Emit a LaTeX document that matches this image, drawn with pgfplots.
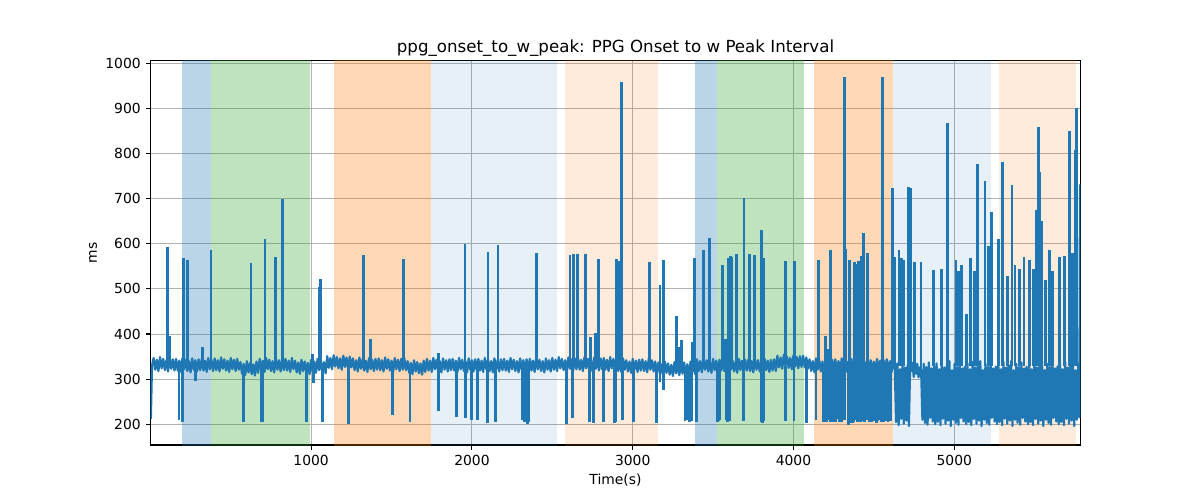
\documentclass[border=0pt]{standalone}
\usepackage{fontspec}
\setmainfont{DejaVu Sans}
\usepackage{pgfplots}
\pgfplotsset{compat=1.18}
\definecolor{tabblue}{RGB}{31,119,180}
\definecolor{tabgreen}{RGB}{44,160,44}
\definecolor{taborange}{RGB}{255,127,14}
\definecolor{gridgray}{RGB}{176,176,176}
\begin{document}
\begin{tikzpicture}[x=1pt,y=1pt]
\useasboundingbox[fill=white] (0,0) rectangle (600,250);
\begin{axis}[
 at={(75.35pt,27.5pt)}, anchor=south west,
 scale only axis, width=464.8pt, height=192.15pt,
 xmin=2, xmax=5784, ymin=154, ymax=1006,
 axis line style={line width=0.555pt},
 grid=major, major grid style={gridgray, line width=0.5pt},
 tick pos=left,
 tick align=outside, major tick length=2.43pt, tick style={black, line width=0.55pt},
 xtick={1000,2000,3000,4000,5000}, ytick={200,300,...,1000},
 ticklabel style={font=\fontsize{6.94}{8}\selectfont},
 /pgf/number format/assume math mode=true,
 /pgf/number format/1000 sep={},
 xticklabel style={inner sep=0pt, anchor=north, yshift=-2.36pt},
 yticklabel style={inner sep=0pt, anchor=east, xshift=-2.36pt},
 unbounded coords=jump,
]
% shaded phases
\addplot[fill=tabblue, fill opacity=0.3, draw=none] coordinates {(197,0)(377,0)(377,2000)(197,2000)};
\addplot[fill=tabgreen, fill opacity=0.3, draw=none] coordinates {(377,0)(995,0)(995,2000)(377,2000)};
\addplot[fill=taborange, fill opacity=0.3, draw=none] coordinates {(1142,0)(1743,0)(1743,2000)(1142,2000)};
\addplot[fill=tabblue, fill opacity=0.11, draw=none] coordinates {(1743,0)(2527,0)(2527,2000)(1743,2000)};
\addplot[fill=taborange, fill opacity=0.15, draw=none] coordinates {(2579,0)(3155,0)(3155,2000)(2579,2000)};
\addplot[fill=tabblue, fill opacity=0.3, draw=none] coordinates {(3389,0)(3526,0)(3526,2000)(3389,2000)};
\addplot[fill=tabgreen, fill opacity=0.3, draw=none] coordinates {(3526,0)(4067,0)(4067,2000)(3526,2000)};
\addplot[fill=taborange, fill opacity=0.3, draw=none] coordinates {(4127,0)(4621,0)(4621,2000)(4127,2000)};
\addplot[fill=tabblue, fill opacity=0.11, draw=none] coordinates {(4621,0)(5226,0)(5226,2000)(4621,2000)};
\addplot[fill=taborange, fill opacity=0.15, draw=none] coordinates {(5278,0)(5755,0)(5755,2000)(5278,2000)};
% baseline series
\addplot[tabblue, line width=1.1pt, line join=round] coordinates {
(3,212)(10,330)
(20,347)(30,321)(40,343)(50,318)(60,349)(70,324)(80,345)(90,320)(100,342)(110,317)(120,348)(130,323)(140,344)(150,319)
(160,345)(170,319)(180,341)(190,316)(200,347)(210,322)(220,343)(230,318)(240,340)(250,315)(260,346)(270,321)(280,342)(290,317)(300,344)(310,320)(320,345)(330,319)(340,341)(350,316)(360,347)(370,322)(380,343)(390,318)
(400,346)(410,320)(420,342)(430,317)(440,348)(450,323)(460,344)(470,319)(480,341)(490,316)(500,347)(510,322)(520,343)(530,318)(540,345)(550,321)
(560,338)(570,312)(580,334)(590,309)(600,340)(610,315)(620,336)(630,311)(640,333)(650,308)(660,339)(670,314)
(680,345)(690,319)(700,341)(710,316)(720,347)(730,322)(740,343)(750,318)(760,340)(770,315)(780,346)(790,321)(800,342)(810,317)(820,344)(830,320)(840,345)(850,319)(860,341)(870,316)(880,347)(890,322)
(900,341)(910,315)(920,337)(930,312)(940,343)(950,318)(960,339)(970,314)(980,336)(990,311)
(1000,343)(1010,317)(1020,339)(1030,314)(1040,345)(1050,320)(1060,341)(1070,316)(1080,338)(1090,313)
(1100,351)(1110,325)(1120,347)(1130,322)(1140,353)(1150,328)(1160,349)(1170,324)(1180,346)(1190,321)(1200,352)(1210,327)(1220,348)(1230,323)(1240,350)(1250,326)
(1260,346)(1270,320)(1280,342)(1290,317)(1300,348)(1310,323)(1320,344)(1330,319)(1340,341)(1350,316)(1360,347)(1370,322)(1380,343)(1390,318)(1400,345)(1410,321)
(1420,346)(1430,320)(1440,342)(1450,317)(1460,348)(1470,323)(1480,344)(1490,319)(1500,341)(1510,316)(1520,347)(1530,322)(1540,343)(1550,318)(1560,345)(1570,321)
(1580,346)(1590,320)
(1600,340)(1610,314)(1620,336)(1630,311)(1640,342)(1650,317)(1660,338)(1670,313)(1680,335)(1690,310)(1700,341)(1710,316)
(1720,345)(1730,319)(1740,341)(1750,316)(1760,347)(1770,322)(1780,343)(1790,318)(1800,340)(1810,315)(1820,346)(1830,321)(1840,342)(1850,317)(1860,344)(1870,320)
(1880,345)(1890,319)(1900,341)(1910,316)(1920,347)(1930,322)(1940,343)(1950,318)(1960,340)(1970,315)(1980,346)(1990,321)(2000,342)(2010,317)(2020,344)(2030,320)
(2040,345)(2050,319)(2060,341)(2070,316)(2080,347)(2090,322)(2100,343)(2110,318)(2120,340)(2130,315)(2140,346)(2150,321)(2160,342)(2170,317)(2180,344)(2190,320)
(2200,345)(2210,319)(2220,341)(2230,316)(2240,347)(2250,322)(2260,343)(2270,318)(2280,340)(2290,315)(2300,346)(2310,321)(2320,342)(2330,317)(2340,344)(2350,320)
(2360,345)(2370,319)(2380,341)(2390,316)(2400,347)(2410,322)(2420,343)(2430,318)(2440,340)(2450,315)(2460,346)(2470,321)(2480,342)(2490,317)
(2500,347)(2510,321)(2520,343)(2530,318)(2540,349)(2550,324)(2560,345)(2570,320)(2580,342)(2590,317)(2600,348)(2610,323)(2620,344)(2630,319)(2640,346)(2650,322)
(2660,347)(2670,321)(2680,343)(2690,318)(2700,349)(2710,324)(2720,345)(2730,320)(2740,342)(2750,317)(2760,348)(2770,323)(2780,344)(2790,319)(2800,346)(2810,322)
(2820,347)(2830,321)(2840,343)(2850,318)(2860,349)(2870,324)(2880,345)(2890,320)
(2900,344)(2910,318)(2920,340)(2930,315)(2940,346)(2950,321)(2960,342)(2970,317)(2980,339)(2990,314)(3000,345)(3010,320)(3020,341)(3030,316)(3040,343)(3050,319)
(3060,344)(3070,318)(3080,340)(3090,315)(3100,346)(3110,321)(3120,342)(3130,317)(3140,339)(3150,314)
(3160,337)(3170,311)(3180,333)(3190,308)(3200,339)(3210,314)(3220,335)(3230,310)(3240,332)(3250,307)(3260,338)(3270,313)(3280,334)(3290,309)(3300,336)(3310,312)
(3320,337)(3330,311)(3340,333)(3350,308)(3360,339)(3370,314)(3380,335)(3390,310)
(3400,344)(3410,318)(3420,340)(3430,315)(3440,346)(3450,321)(3460,342)(3470,317)(3480,339)(3490,314)(3500,345)(3510,320)(3520,341)(3530,316)(3540,343)(3550,319)
(3560,344)(3570,318)(3580,340)(3590,315)(3600,346)(3610,321)(3620,342)(3630,317)(3640,339)(3650,314)(3660,345)(3670,320)(3680,341)(3690,316)(3700,343)(3710,319)
(3720,344)(3730,318)(3740,340)(3750,315)(3760,346)(3770,321)(3780,342)(3790,317)(3800,339)(3810,314)(3820,345)(3830,320)(3840,341)(3850,316)(3860,343)(3870,319)
(3880,344)(3890,318)
(3900,352)(3910,326)(3920,348)(3930,323)(3940,354)(3950,329)(3960,350)(3970,325)(3980,347)(3990,322)(4000,353)(4010,328)(4020,349)(4030,324)(4040,351)(4050,327)
(4060,352)(4070,326)(4080,348)(4090,323)
(4100,344)(4110,318)(4120,340)(4130,315)(4140,346)(4150,321)(4160,342)(4170,317)(4180,339)(4190,314)(4200,345)(4210,320)(4220,341)(4230,316)(4240,343)(4250,319)
(4260,344)(4270,318)(4280,340)(4290,315)(4300,346)(4310,321)(4320,342)(4330,317)(4340,339)(4350,314)(4360,345)(4370,320)(4380,341)(4390,316)(4400,343)(4410,319)
(4420,344)(4430,318)(4440,340)(4450,315)(4460,346)(4470,321)(4480,342)(4490,317)(4500,339)(4510,314)(4520,345)(4530,320)(4540,341)(4550,316)(4560,343)(4570,319)
(4580,344)(4590,318)(4600,340)(4610,315)(4620,339)
(4630,328)(4638,205)(4646,335)(4654,198)(4662,322)(4670,212)(4678,338)(4686,201)(4694,326)(4702,208)
(4710,331)(4718,196)(4726,340)(4733,318)(4740,336)(4748,305)(4755,330)(4763,312)(4770,334)(4778,304)(4785,326)
(4794,320)(4802,210)(4810,334)(4818,203)(4826,327)(4834,199)(4842,337)(4850,214)(4858,324)(4866,206)
(4874,328)(4882,200)(4890,335)(4898,205)(4906,322)(4914,198)(4922,338)(4930,212)(4938,326)(4946,201)
(4954,331)(4962,208)(4970,340)(4978,196)(4986,320)(4994,210)(5002,334)(5010,203)(5018,327)(5026,199)
(5034,337)(5042,214)(5050,324)(5058,206)(5066,328)(5074,200)(5082,335)(5090,205)(5098,322)(5106,198)
(5114,338)(5122,212)(5130,326)(5138,201)(5146,331)(5154,208)(5162,340)(5170,196)(5178,320)(5186,210)
(5194,334)(5202,203)(5210,327)(5218,199)(5226,337)(5234,214)(5242,324)(5250,206)(5258,328)(5266,200)
(5274,335)(5282,205)(5290,322)(5298,198)(5306,338)(5314,212)(5322,326)(5330,201)(5338,331)(5346,208)
(5354,340)(5362,196)(5370,320)(5378,210)(5386,334)(5394,203)(5402,327)(5410,199)(5418,337)(5426,214)
(5434,324)(5442,206)(5450,328)(5458,200)(5466,335)(5474,205)(5482,322)(5490,198)(5498,338)(5506,212)
(5514,326)(5522,201)(5530,331)(5538,208)(5546,340)(5554,196)(5562,320)(5570,210)(5578,334)(5586,203)
(5594,327)(5602,199)(5610,337)(5618,214)(5626,324)(5634,206)(5642,328)(5650,200)(5658,335)(5666,205)
(5674,322)(5682,198)(5690,338)(5698,212)(5706,326)(5714,201)(5722,331)(5730,208)(5738,340)(5746,196)
(5754,320)(5762,210)(5770,334)(5778,215)(5782,730)(5784,728)
};
% upward spikes
\addplot[tabblue, line width=1.45pt] coordinates {
(109,332)(109,593)(109,nan)(117,332)(117,396)(117,nan)(205,332)(205,568)(205,nan)(230,332)(230,565)(230,nan)
(323,332)(323,371)(323,nan)(377,332)(377,586)(377,nan)(626,325)(626,558)(626,nan)(713,330)(713,610)(713,nan)
(777,330)(777,571)(777,nan)(820,330)(820,699)(820,nan)(1009,330)(1009,355)(1009,nan)(1052,330)(1052,505)(1052,nan)
(1057,330)(1057,523)(1057,nan)(1324,332)(1324,575)(1324,nan)(1368,332)(1368,389)(1368,nan)(1577,332)(1577,566)(1577,nan)
(1791,332)(1791,357)(1791,nan)(1957,332)(1957,599)(1957,nan)(2100,332)(2100,582)(2100,nan)(2162,332)(2162,598)(2162,nan)
(2403,332)(2403,579)(2403,nan)(2610,332)(2610,576)(2610,nan)(2633,332)(2633,577)(2633,nan)(2658,332)(2658,578)(2658,nan)
(2707,332)(2707,577)(2707,nan)(2736,332)(2736,394)(2736,nan)(2771,332)(2771,402)(2771,nan)(2788,332)(2788,566)(2788,nan)
(2900,332)(2900,566)(2900,nan)(2910,332)(2910,528)(2910,nan)(2916,332)(2916,562)(2916,nan)(2929,332)(2929,959)(2929,nan)
(3103,332)(3103,560)(3103,nan)(3170,325)(3170,509)(3170,nan)(3190,325)(3190,564)(3190,nan)(3273,325)(3273,441)(3273,nan)
(3293,325)(3293,372)(3293,nan)(3306,325)(3306,387)(3306,nan)(3369,325)(3369,382)(3369,nan)(3383,325)(3383,569)(3383,nan)
(3439,330)(3439,586)(3439,nan)(3479,330)(3479,612)(3479,nan)(3560,330)(3560,553)(3560,nan)(3575,330)(3575,388)(3575,nan)
(3597,330)(3597,569)(3597,nan)(3609,330)(3609,572)(3609,nan)(3615,330)(3615,571)(3615,nan)(3647,330)(3647,577)(3647,nan)
(3692,330)(3692,701)(3692,nan)(3729,330)(3729,577)(3729,nan)(3756,330)(3756,576)(3756,nan)(3800,330)(3800,631)(3800,nan)
(3812,330)(3812,569)(3812,nan)(3953,335)(3953,562)(3953,nan)(4005,335)(4005,562)(4005,nan)
(4154,330)(4154,564)(4154,nan)(4200,330)(4200,396)(4200,nan)(4210,330)(4210,367)(4210,nan)(4231,330)(4231,586)(4231,nan)
(4316,330)(4316,969)(4316,nan)(4326,330)(4326,588)(4326,nan)(4351,330)(4351,564)(4351,nan)(4380,330)(4380,560)(4380,nan)
(4392,330)(4392,556)(4392,nan)(4402,330)(4402,563)(4402,nan)(4410,330)(4410,560)(4410,nan)(4420,330)(4420,572)(4420,nan)
(4430,330)(4430,565)(4430,nan)(4438,330)(4438,623)(4438,nan)(4461,330)(4461,580)(4461,nan)(4555,330)(4555,969)(4555,nan)
(4617,330)(4617,723)(4617,nan)(4627,330)(4627,571)(4627,nan)(4656,330)(4656,586)(4656,nan)(4672,330)(4672,569)(4672,nan)
(4683,330)(4683,564)(4683,nan)(4714,330)(4714,727)(4714,nan)(4729,330)(4729,723)(4729,nan)(4753,320)(4753,560)(4753,nan)
(4793,320)(4793,560)(4793,nan)(4870,330)(4870,542)(4870,nan)(4922,330)(4922,545)(4922,nan)(4959,330)(4959,868)(4959,nan)
(5011,330)(5011,564)(5011,nan)(5025,330)(5025,540)(5025,nan)(5046,330)(5046,553)(5046,nan)(5077,330)(5077,444)(5077,nan)
(5102,330)(5102,569)(5102,nan)(5128,330)(5128,539)(5128,nan)(5147,330)(5147,776)(5147,nan)(5191,330)(5191,740)(5191,nan)
(5212,330)(5212,595)(5212,nan)(5233,330)(5233,671)(5233,nan)(5274,330)(5274,611)(5274,nan)(5301,330)(5301,782)(5301,nan)
(5332,330)(5332,528)(5332,nan)(5359,330)(5359,730)(5359,nan)(5378,330)(5378,553)(5378,nan)(5405,330)(5405,545)(5405,nan)
(5434,330)(5434,570)(5434,nan)(5467,330)(5467,564)(5467,nan)(5492,330)(5492,545)(5492,nan)(5512,330)(5512,674)(5512,nan)
(5523,330)(5523,860)(5523,nan)(5533,330)(5533,760)(5533,nan)(5545,330)(5545,650)(5545,nan)(5570,330)(5570,520)(5570,nan)
(5595,330)(5595,586)(5595,nan)(5610,330)(5610,540)(5610,nan)(5653,330)(5653,571)(5653,nan)(5688,330)(5688,574)(5688,nan)
(5718,330)(5718,851)(5718,nan)(5735,330)(5735,580)(5735,nan)(5751,330)(5751,808)(5751,nan)(5761,330)(5761,902)(5761,nan)
};
% downward drops
\addplot[tabblue, line width=1.45pt] coordinates {
(178,335)(178,209)(178,nan)(198,335)(198,206)(198,nan)(282,330)(282,296)(282,nan)(578,325)(578,204)(578,nan)
(690,325)(690,205)(690,nan)(698,325)(698,205)(698,nan)(972,325)(972,204)(972,nan)(1013,325)(1013,291)(1013,nan)
(1072,325)(1072,204)(1072,nan)(1235,330)(1235,200)(1235,nan)(1505,330)(1505,221)(1505,nan)(1615,325)(1615,204)(1615,nan)
(1791,325)(1791,230)(1791,nan)(1903,325)(1903,215)(1903,nan)(1959,325)(1959,213)(1959,nan)(1998,325)(1998,210)(1998,nan)
(2033,325)(2033,210)(2033,nan)(2098,325)(2098,203)(2098,nan)(2145,325)(2145,204)(2145,nan)(2316,325)(2316,210)(2316,nan)
(2325,325)(2325,204)(2325,nan)(2335,325)(2335,212)(2335,nan)(2345,325)(2345,200)(2345,nan)(2355,325)(2355,206)(2355,nan)
(2589,325)(2589,201)(2589,nan)(2627,325)(2627,214)(2627,nan)(2730,325)(2730,206)(2730,nan)(2755,325)(2755,203)(2755,nan)
(2819,325)(2819,206)(2819,nan)(2885,325)(2885,203)(2885,nan)(2894,325)(2894,206)(2894,nan)(2935,325)(2935,210)(2935,nan)
(3003,325)(3003,206)(3003,nan)(3149,325)(3149,203)(3149,nan)(3170,320)(3170,293)(3170,nan)(3190,320)(3190,275)(3190,nan)
(3325,320)(3325,207)(3325,nan)(3342,320)(3342,210)(3342,nan)(3352,320)(3352,205)(3352,nan)(3369,320)(3369,207)(3369,nan)
(3395,320)(3395,206)(3395,nan)(3525,325)(3525,205)(3525,nan)(3532,325)(3532,207)(3532,nan)(3540,325)(3540,210)(3540,nan)
(3580,325)(3580,210)(3580,nan)(3590,325)(3590,205)(3590,nan)(3605,325)(3605,208)(3605,nan)(3688,325)(3688,207)(3688,nan)
(3800,325)(3800,205)(3800,nan)(3806,325)(3806,203)(3806,nan)(3815,325)(3815,208)(3815,nan)(3953,330)(3953,208)(3953,nan)
(4003,330)(4003,207)(4003,nan)(4082,330)(4082,203)(4082,nan)
(4140,325)(4140,209)(4140,nan)(4185,325)(4185,206)(4185,nan)(4198,325)(4198,207)(4198,nan)(4205,325)(4205,205)(4205,nan)(4215,325)(4215,210)(4215,nan)
(4228,325)(4228,206)(4228,nan)(4236,325)(4236,208)(4236,nan)(4245,325)(4245,204)(4245,nan)(4260,325)(4260,205)(4260,nan)(4272,325)(4272,211)(4272,nan)
(4285,325)(4285,206)(4285,nan)(4300,325)(4300,204)(4300,nan)(4318,325)(4318,209)(4318,nan)(4342,325)(4342,198)(4342,nan)
(4350,325)(4350,203)(4350,nan)(4358,325)(4358,207)(4358,nan)(4365,325)(4365,202)(4365,nan)(4372,325)(4372,205)(4372,nan)(4384,325)(4384,210)(4384,nan)
(4396,325)(4396,206)(4396,nan)(4415,325)(4415,204)(4415,nan)(4430,325)(4430,208)(4430,nan)(4442,325)(4442,206)(4442,nan)
(4454,325)(4454,209)(4454,nan)(4475,325)(4475,204)(4475,nan)(4488,325)(4488,205)(4488,nan)(4500,325)(4500,207)(4500,nan)(4514,325)(4514,203)(4514,nan)
(4522,325)(4522,207)(4522,nan)(4530,325)(4530,210)(4530,nan)(4545,325)(4545,206)(4545,nan)(4560,325)(4560,204)(4560,nan)(4575,325)(4575,208)(4575,nan)
(4588,325)(4588,205)(4588,nan)(4605,325)(4605,207)(4605,nan)
};
\end{axis}
\node[anchor=base, font=\fontsize{8.33}{10}\selectfont, inner sep=0pt] at (307.75,223.8) {ppg\_onset\_to\_w\_peak: PPG Onset to w Peak Interval};
\node[anchor=center, font=\fontsize{6.94}{8}\selectfont, inner sep=0pt] at (307.75,10) {Time(s)};
\node[anchor=center, rotate=90, font=\fontsize{6.94}{8}\selectfont, inner sep=0pt] at (46.5,123.6) {ms};
\end{tikzpicture}
\end{document}
